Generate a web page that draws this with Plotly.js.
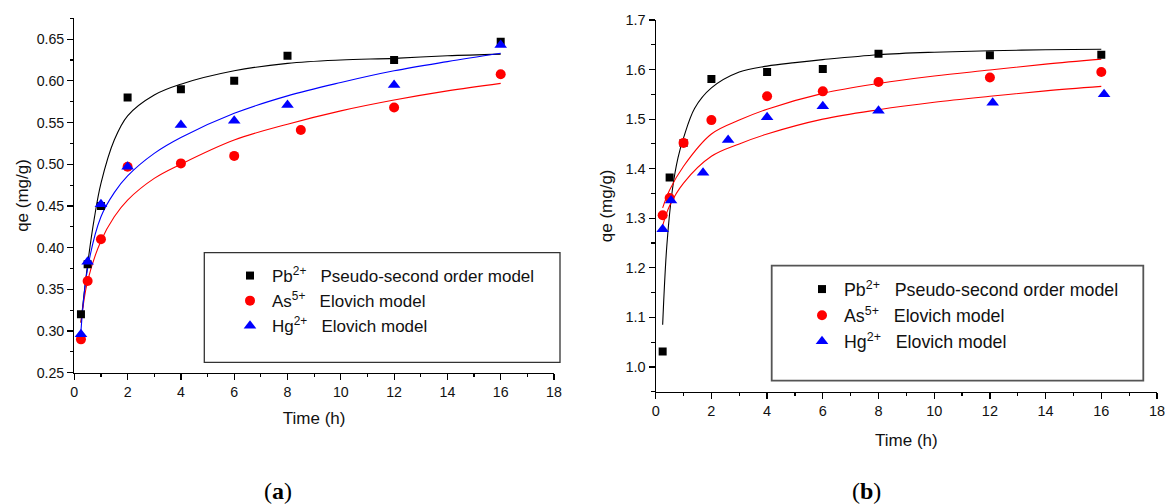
<!DOCTYPE html>
<html>
<head>
<meta charset="utf-8">
<script src="https://cdn.plot.ly/plotly-3.0.1.min.js"></script>
<style>html,body{margin:0;padding:0;background:#fff;}#chart{width:1165px;height:504px;}</style>
</head>
<body>
<div id="chart"></div>
<script>
// ---------- Panel (a) measured data ----------
const timeA   = [0.25, 0.5, 1, 2, 4, 6, 8, 12, 16];
const timeAsA = [0.25, 0.5, 1, 2, 4, 6, 8.5, 12, 16];
const pbA = [0.320, 0.380, 0.450, 0.580, 0.590, 0.600, 0.630, 0.625, 0.647];
const asA = [0.290, 0.360, 0.410, 0.497, 0.501, 0.510, 0.541, 0.568, 0.608];
const hgA = [0.296, 0.383, 0.452, 0.497, 0.547, 0.552, 0.571, 0.595, 0.643];

// ---------- Panel (a) model curves ----------
const fitPbTA = [0.25, 0.5, 0.75, 1, 1.5, 2, 3, 4, 6, 8, 10, 12, 14, 16];
const fitPbA  = [0.310, 0.380, 0.435, 0.477, 0.529, 0.558, 0.583, 0.596, 0.612, 0.621, 0.625, 0.627, 0.630, 0.632];
const fitElTA = [0.25, 0.5, 1, 1.5, 2, 3, 4, 6, 8, 10, 12, 14, 16];
const fitAsA  = [0.310, 0.360, 0.408, 0.437, 0.457, 0.483, 0.500, 0.529, 0.548, 0.564, 0.577, 0.588, 0.597];
const fitHgA  = [0.300, 0.375, 0.437, 0.466, 0.486, 0.513, 0.532, 0.561, 0.582, 0.598, 0.612, 0.623, 0.633];

// ---------- Panel (b) measured data ----------
const timeB   = [0.25, 0.5, 1, 2, 4, 6, 8, 12, 16];
const timeHgB = [0.25, 0.55, 1.7, 2.6, 4, 6, 8, 12.1, 16.1];
const pbB = [1.031, 1.382, 1.452, 1.581, 1.595, 1.601, 1.632, 1.629, 1.630];
const asB = [1.306, 1.341, 1.452, 1.498, 1.546, 1.556, 1.575, 1.584, 1.595];
const hgB = [1.278, 1.336, 1.392, 1.458, 1.504, 1.526, 1.517, 1.533, 1.550];

// ---------- Panel (b) model curves ----------
const fitPbTB = [0.25, 0.4, 0.6, 0.8, 1, 1.4, 2, 3, 4, 5, 6, 8, 10, 12, 14, 16];
const fitPbB  = [1.085, 1.245, 1.358, 1.422, 1.462, 1.522, 1.563, 1.595, 1.607, 1.614, 1.620, 1.630, 1.635, 1.638, 1.640, 1.641];
const fitElTB = [0.25, 0.5, 1, 2, 3, 4, 6, 8, 10, 12, 14, 16];
const fitAsB  = [1.321, 1.357, 1.405, 1.470, 1.498, 1.520, 1.552, 1.572, 1.587, 1.599, 1.611, 1.621];
const fitHgB  = [1.285, 1.325, 1.371, 1.425, 1.450, 1.470, 1.500, 1.519, 1.534, 1.546, 1.557, 1.566];

// ---------- Labels ----------
const nb = '\u00a0\u00a0\u00a0';
const labelPb = 'Pb<sup>2+</sup>' + nb + 'Pseudo-second order model';
const labelAs = 'As<sup>5+</sup>' + nb + 'Elovich model';
const labelHg = 'Hg<sup>2+</sup>' + nb + 'Elovich model';
const xTitle = 'Time (h)';
const yTitle = 'qe (mg/g)';
const captionA = '(<b>a</b>)';
const captionB = '(<b>b</b>)';

const W = 1165, H = 504;
const px = v => v / W;
const py = v => 1 - v / H;

const BLACK = '#000000', RED = '#ff0000', BLUE = '#0000ff';
const sansFont = 'Liberation Sans, Arial, sans-serif';

function fitLine(x, y, color, xa, ya) {
  return {x: x, y: y, mode: 'lines', type: 'scatter', xaxis: xa, yaxis: ya,
    line: {color: color, width: 1.1, shape: 'spline', smoothing: 1}, showlegend: false, hoverinfo: 'skip'};
}
function pts(x, y, color, symbol, size, name, xa, ya, leg) {
  return {x: x, y: y, mode: 'markers', type: 'scatter', xaxis: xa, yaxis: ya, name: name, legend: leg,
    marker: {color: color, symbol: symbol, size: size, line: {width: 0}}};
}

const traces = [
  fitLine(fitPbTA, fitPbA, BLACK, 'x', 'y'),
  fitLine(fitElTA, fitAsA, RED, 'x', 'y'),
  fitLine(fitElTA, fitHgA, BLUE, 'x', 'y'),
  pts(timeA, pbA, BLACK, 'square', 8, labelPb, 'x', 'y', 'legend'),
  pts(timeAsA, asA, RED, 'circle', 10, labelAs, 'x', 'y', 'legend'),
  pts(timeA, hgA, BLUE, 'triangle-up', 11, labelHg, 'x', 'y', 'legend'),

  fitLine(fitPbTB, fitPbB, BLACK, 'x2', 'y2'),
  fitLine(fitElTB, fitAsB, RED, 'x2', 'y2'),
  fitLine(fitElTB, fitHgB, RED, 'x2', 'y2'),
  pts(timeB, pbB, BLACK, 'square', 8, labelPb, 'x2', 'y2', 'legend2'),
  pts(timeB, asB, RED, 'circle', 10, labelAs, 'x2', 'y2', 'legend2'),
  pts(timeHgB, hgB, BLUE, 'triangle-up', 11, labelHg, 'x2', 'y2', 'legend2')
];

function xAxis(domain, anchor, fs, standoff) {
  return {domain: domain, anchor: anchor, range: [0, 18], dtick: 2, tick0: 0,
    showline: true, linecolor: BLACK, linewidth: 1.2, showgrid: false, zeroline: false,
    ticks: 'outside', ticklen: 6, tickwidth: 1.2, tickcolor: BLACK, ticklabeloverflow: 'allow',
    minor: {dtick: 1, ticks: 'outside', ticklen: 3.5, tickwidth: 1.1, tickcolor: BLACK, showgrid: false},
    tickfont: {family: sansFont, size: fs, color: '#111'},
    title: {text: xTitle, font: {family: sansFont, size: 17, color: '#111'}, standoff: standoff},
    automargin: false, fixedrange: true};
}
function yAxis(domain, anchor, range, dtick, minorD, fmt, fs, standoff) {
  return {domain: domain, anchor: anchor, range: range, dtick: dtick, tick0: 0,
    showline: true, linecolor: BLACK, linewidth: 1.2, showgrid: false, zeroline: false,
    ticks: 'outside', ticklen: 6, tickwidth: 1.2, tickcolor: BLACK, tickformat: fmt, ticklabeloverflow: 'allow',
    minor: {dtick: minorD, tick0: 0, ticks: 'outside', ticklen: 3.5, tickwidth: 1.1, tickcolor: BLACK, showgrid: false},
    tickfont: {family: sansFont, size: fs, color: '#111'},
    title: {text: yTitle, font: {family: sansFont, size: 17, color: '#111'}, standoff: standoff},
    automargin: false, fixedrange: true};
}

const layout = {
  width: W, height: H,
  margin: {l: 0, r: 0, t: 0, b: 0},
  paper_bgcolor: '#ffffff', plot_bgcolor: '#ffffff',
  font: {family: sansFont, color: '#111'},
  xaxis:  xAxis([px(74.3), px(554)], 'y', 14.2, 13),
  yaxis:  yAxis([py(372.7), py(18.3)], 'x', [0.25, 0.675], 0.05, 0.025, '.2f', 14.2, 3),
  xaxis2: xAxis([px(655.7), px(1157)], 'y2', 14.5, 15),
  yaxis2: yAxis([py(391.7), py(20)], 'x2', [0.95, 1.7], 0.1, 0.05, '.1f', 14.5, 8),
  legend: {x: px(228), y: py(258), xanchor: 'left', yanchor: 'top', itemwidth: 34,
    bgcolor: 'rgba(0,0,0,0)', borderwidth: 0, tracegroupgap: 0,
    font: {family: sansFont, size: 17, color: '#111'}},
  legend2: {x: px(800), y: py(271), xanchor: 'left', yanchor: 'top', itemwidth: 34,
    bgcolor: 'rgba(0,0,0,0)', borderwidth: 0, tracegroupgap: 0,
    font: {family: sansFont, size: 17.8, color: '#111'}},
  shapes: [
    {type: 'rect', xref: 'paper', yref: 'paper', x0: px(204.3), x1: px(560), y0: py(362.3), y1: py(252.7),
     line: {color: '#333333', width: 1.3}, fillcolor: 'rgba(0,0,0,0)', layer: 'above'},
    {type: 'rect', xref: 'paper', yref: 'paper', x0: px(771.7), x1: px(1143.3), y0: py(380.7), y1: py(265.7),
     line: {color: '#555555', width: 1.8}, fillcolor: 'rgba(0,0,0,0)', layer: 'above'}
  ],
  annotations: [
    {text: captionA, xref: 'paper', yref: 'paper', x: px(278), y: py(491), xanchor: 'center', yanchor: 'middle',
     showarrow: false, font: {family: 'Liberation Serif, Times New Roman, serif', size: 24, color: '#000'}},
    {text: captionB, xref: 'paper', yref: 'paper', x: px(866), y: py(491), xanchor: 'center', yanchor: 'middle',
     showarrow: false, font: {family: 'Liberation Serif, Times New Roman, serif', size: 24, color: '#000'}}
  ],
  showlegend: true
};

Plotly.newPlot('chart', traces, layout, {staticPlot: true, displayModeBar: false});
</script>
</body>
</html>
